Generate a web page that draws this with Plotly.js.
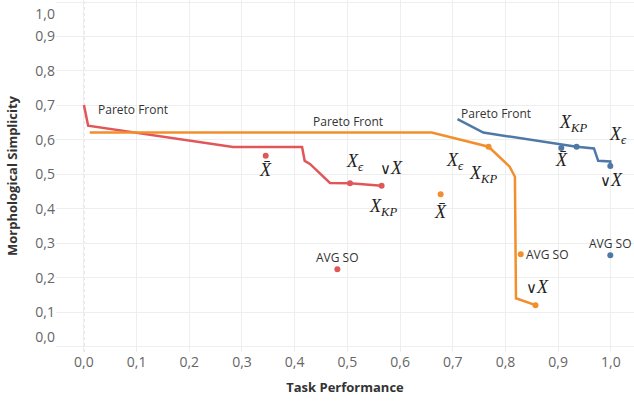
<!DOCTYPE html>
<html>
<head>
<meta charset="utf-8">
<script src="https://cdn.plot.ly/plotly-3.0.1.min.js"></script>
<style>html,body{margin:0;padding:0;background:#fff}#chart{width:634px;height:402px}</style>
</head>
<body>
<div id="chart"></div>
<script>
// ---- data ----
const tickVals = [0, 0.1, 0.2, 0.3, 0.4, 0.5, 0.6, 0.7, 0.8, 0.9, 1.0];
const tickText = ['0,0','0,1','0,2','0,3','0,4','0,5','0,6','0,7','0,8','0,9','1,0'];

const redFrontX = [0.0, 0.008, 0.283, 0.414, 0.419, 0.429, 0.467, 0.505, 0.565];
const redFrontY = [0.701, 0.641, 0.579, 0.579, 0.539, 0.530, 0.475, 0.474, 0.467];
const redDotX = [0.505, 0.565, 0.345, 0.481];
const redDotY = [0.474, 0.467, 0.554, 0.224];

const orangeFrontX = [0.011, 0.660, 0.768, 0.808, 0.818, 0.820, 0.857];
const orangeFrontY = [0.621, 0.621, 0.580, 0.522, 0.493, 0.140, 0.120];
const orangeDotX = [0.768, 0.857, 0.677, 0.829];
const orangeDotY = [0.580, 0.120, 0.442, 0.268];

const blueFrontX = [0.709, 0.758, 0.935, 0.968, 0.976, 0.999, 0.999];
const blueFrontY = [0.660, 0.621, 0.580, 0.575, 0.539, 0.537, 0.524];
const blueDotX = [0.935, 0.999, 0.906, 0.999];
const blueDotY = [0.580, 0.524, 0.576, 0.265];

const RED = '#e15759', ORANGE = '#f28e2b', BLUE = '#4e79a7';

const traces = [
  {x: redFrontX, y: redFrontY, mode: 'lines', line: {color: RED, width: 2.5}},
  {x: orangeFrontX, y: orangeFrontY, mode: 'lines', line: {color: ORANGE, width: 2.5}},
  {x: blueFrontX, y: blueFrontY, mode: 'lines', line: {color: BLUE, width: 2.5}},
  {x: redDotX, y: redDotY, mode: 'markers', marker: {color: RED, size: 6}},
  {x: orangeDotX, y: orangeDotY, mode: 'markers', marker: {color: ORANGE, size: 6}},
  {x: blueDotX, y: blueDotY, mode: 'markers', marker: {color: BLUE, size: 6}},
  {x: [], y: [], yaxis: 'y2', mode: 'markers', hoverinfo: 'skip'}
];

const SANS = 'Open Sans, sans-serif';
const SERIF = 'Liberation Serif, DejaVu Serif, serif';
function txt(x, y, text, opts) {
  return Object.assign({x: x, y: y, text: text, showarrow: false, xref: 'x', yref: 'y',
    font: {family: SANS, size: 12, color: '#333'}, xanchor: 'center', yanchor: 'middle'}, opts || {});
}
function math(x, y, text) {
  return txt(x, y, text, {font: {family: SERIF, size: 18, color: '#222'}});
}
const XBAR = '<i>X\u0304</i>';
const XEPS = '<i>X<sub>\u03f5</sub></i>';
const XKP = '<i>X<sub>KP</sub></i>';
const VX = '<span style="font-family:DejaVu Sans;font-size:15px;font-weight:normal">\u2228</span><i>X</i>';

const annotations = [
  txt(0.094, 0.687, 'Pareto Front'),
  txt(0.501, 0.654, 'Pareto Front'),
  txt(0.783, 0.677, 'Pareto Front'),
  txt(0.481, 0.259, 'AVG SO'),
  txt(0.836, 0.268, 'AVG SO', {xanchor: 'left'}),
  txt(0.999, 0.300, 'AVG SO'),
  math(0.344, 0.512, XBAR), math(0.514, 0.535, XEPS), math(0.583, 0.518, VX), math(0.567, 0.405, XKP),
  math(0.677, 0.390, XBAR), math(0.704, 0.538, XEPS), math(0.757, 0.500, XKP), math(0.861, 0.172, VX),
  math(0.906, 0.541, XBAR), math(0.928, 0.648, XKP), math(1.013, 0.613, XEPS), math(1.001, 0.483, VX)
];

const layout = {
  width: 634, height: 402,
  margin: {l: 56, r: 0, t: 0, b: 50},
  paper_bgcolor: '#fff', plot_bgcolor: '#fff',
  showlegend: false,
  font: {family: SANS, color: '#666'},
  xaxis: {
    range: [-0.053, 1.044], tickvals: tickVals, ticktext: tickText,
    showgrid: true, gridcolor: '#eeeeee', gridwidth: 1, zeroline: false,
    showline: false, ticks: '', tickfont: {family: SANS, size: 14, color: '#666'},
    title: {text: '<b>Task Performance</b>', font: {family: SANS, size: 13, color: '#333'}, standoff: 12}
  },
  yaxis: {
    range: [-0.016, 1.006], tickvals: tickVals,
    showgrid: true, gridcolor: '#eeeeee', gridwidth: 1, zeroline: false,
    showline: false, ticks: '', showticklabels: false,
    title: {text: '<b>Morphological Simplicity</b>', font: {family: SANS, size: 13, color: '#333'}, standoff: 34}
  },
  yaxis2: {
    overlaying: 'y', side: 'left', range: [-0.016, 1.006],
    tickvals: [0.028, 0.1, 0.2, 0.3, 0.4, 0.5, 0.6, 0.7, 0.8, 0.9, 0.965], ticktext: tickText,
    showgrid: false, zeroline: false, showline: false, ticks: '',
    tickfont: {family: SANS, size: 14, color: '#666'}
  },
  shapes: [
    {type: 'line', xref: 'x', yref: 'paper', x0: 0, x1: 0, y0: 0, y1: 1,
     line: {color: '#cccccc', width: 1, dash: 'dot'}, layer: 'below'}
  ],
  annotations: annotations
};

Plotly.newPlot('chart', traces, layout, {displayModeBar: false, staticPlot: true});
</script>
</body>
</html>
